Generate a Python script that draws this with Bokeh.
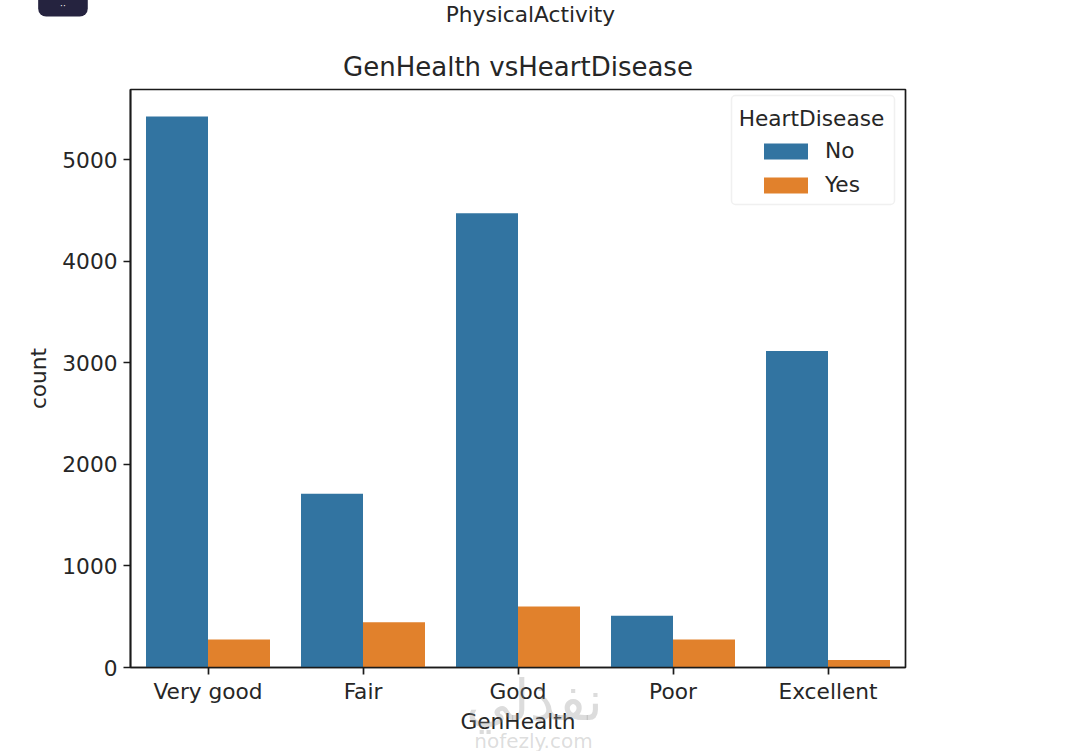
from bokeh.plotting import figure
from bokeh.layouts import column
from bokeh.models import FactorRange, Range1d, Legend, LegendItem, Label, BoxAnnotation, FixedTicker, ColumnDataSource
from bokeh.transform import dodge
from bokeh.embed import file_html
from bokeh.resources import INLINE

categories = ["Very good", "Fair", "Good", "Poor", "Excellent"]
no_counts = [5423, 1710, 4470, 510, 3115]
yes_counts = [275, 445, 600, 275, 75]
y_ticks = [0, 1000, 2000, 3000, 4000, 5000]
series_names = ["No", "Yes"]
title_text = "GenHealth vsHeartDisease"
x_label = "GenHealth"
y_label = "count"
header_text = "PhysicalActivity"
legend_title = "HeartDisease"
watermark_ar = "نفذلي"
watermark_en = "nofezly.com"

BLUE = "#3274a1"
ORANGE = "#e1812c"
INK = "#262626"
FONT = "DejaVu Sans"
SIZE = "21.7px"
FRAME_LEFT = 130
FRAME_BOTTOM = 667


def sx(px):
    return px - FRAME_LEFT


def sy(py):
    return FRAME_BOTTOM - py


source = ColumnDataSource(dict(cat=categories, no=no_counts, yes=yes_counts))

p = figure(
    title=title_text,
    x_range=FactorRange(factors=categories, range_padding=0),
    y_range=Range1d(0, 5689),
    frame_width=775, frame_height=578,
    min_border_left=138, min_border_right=152,
    min_border_top=97, min_border_bottom=76,
    output_backend="svg", toolbar_location=None,
    margin=(-8, 0, 0, -8),
    frame_align=False,
)
p.title.align = "center"
p.title.offset = -2
p.title.text_font = FONT
p.title.text_font_size = "26px"
p.title.text_font_style = "normal"
p.title.text_color = INK
p.title.standoff = 15
p.grid.visible = False
p.outline_line_color = "#1a1a1a"
p.outline_line_width = 1.7
p.background_fill_color = "white"

r_no = p.vbar(x=dodge("cat", -0.2, range=p.x_range), top="no", width=0.4, bottom=0,
              source=source, fill_color=BLUE, line_color=None)
r_yes = p.vbar(x=dodge("cat", 0.2, range=p.x_range), top="yes", width=0.4, bottom=0,
               source=source, fill_color=ORANGE, line_color=None)

for ax in (p.xaxis[0], p.yaxis[0]):
    ax.axis_line_color = "#1a1a1a"
    ax.axis_line_width = 1.7
    ax.major_tick_line_color = "#1a1a1a"
    ax.major_tick_line_width = 1.7
    ax.major_tick_out = 7
    ax.major_tick_in = 0
    ax.minor_tick_line_color = None
    ax.major_label_text_font = FONT
    ax.major_label_text_font_size = SIZE
    ax.major_label_text_color = INK
    ax.axis_label_text_font = FONT
    ax.axis_label_text_font_size = SIZE
    ax.axis_label_text_font_style = "normal"
    ax.axis_label_text_color = INK
p.yaxis[0].ticker = FixedTicker(ticks=y_ticks)
p.yaxis[0].axis_label = y_label
p.xaxis[0].axis_label = x_label
p.xaxis[0].major_label_standoff = 4
p.yaxis[0].major_label_standoff = 6
p.xaxis[0].axis_label_standoff = 2
p.yaxis[0].axis_label_standoff = 8

# legend frame + title + entries
p.add_layout(BoxAnnotation(left=sx(731), right=sx(894), top=sy(95), bottom=sy(204),
                           left_units="screen", right_units="screen",
                           top_units="screen", bottom_units="screen",
                           fill_color="white", fill_alpha=0.85,
                           line_color="#cccccc", line_width=1.5, border_radius=4))
p.add_layout(Label(x=sx(811), y=sy(118), x_units="screen", y_units="screen", text=legend_title,
                   text_font=FONT, text_font_size=SIZE, text_color=INK,
                   text_align="center", text_baseline="middle"))
legend = Legend(
    items=[LegendItem(label=series_names[0], renderers=[r_no]),
           LegendItem(label=series_names[1], renderers=[r_yes])],
    location=(628, 470),
    orientation="vertical",
    glyph_width=55, glyph_height=20,
    label_standoff=12, spacing=9, padding=8, margin=0,
    border_line_color=None, background_fill_alpha=0,
    label_text_font=FONT, label_text_font_size=SIZE, label_text_color=INK,
    label_height=16,
)
p.add_layout(legend)

# transparent full-page overlay in page pixels, for what lies outside the axes
o = figure(
    x_range=Range1d(-8, 1065), y_range=Range1d(751, -8),
    width=1073, height=759,
    min_border=0, x_axis_type=None, y_axis_type=None,
    output_backend="svg", toolbar_location=None,
    margin=(-751, 0, 0, -8),
    frame_align=False,
)
o.grid.visible = False
o.outline_line_color = None
o.background_fill_alpha = 0
o.border_fill_alpha = 0

o.add_layout(BoxAnnotation(left=38, right=88, top=-20, bottom=16,
                           fill_color="#25233f", fill_alpha=1, line_color=None,
                           border_radius=8))
o.add_layout(Label(x=63, y=5, text="··",
                   text_font=FONT, text_font_size="9px", text_color="white",
                   text_align="center", text_baseline="middle"))
o.add_layout(Label(x=534, y=14, text=header_text,
                   text_font=FONT, text_font_size=SIZE, text_color=INK,
                   text_align="center", text_baseline="middle"))
o.add_layout(Label(x=538, y=700, text=watermark_ar,
                   text_font=FONT, text_font_size="56px", text_color="#8a8a8a", text_alpha=0.3,
                   text_align="center", text_baseline="middle"))
o.add_layout(Label(x=537, y=740, text=watermark_en,
                   text_font=FONT, text_font_size="20px", text_color="#8a8a8a", text_alpha=0.3,
                   text_align="center", text_baseline="middle"))

open("out.html", "w").write(file_html(column(p, o), INLINE))
